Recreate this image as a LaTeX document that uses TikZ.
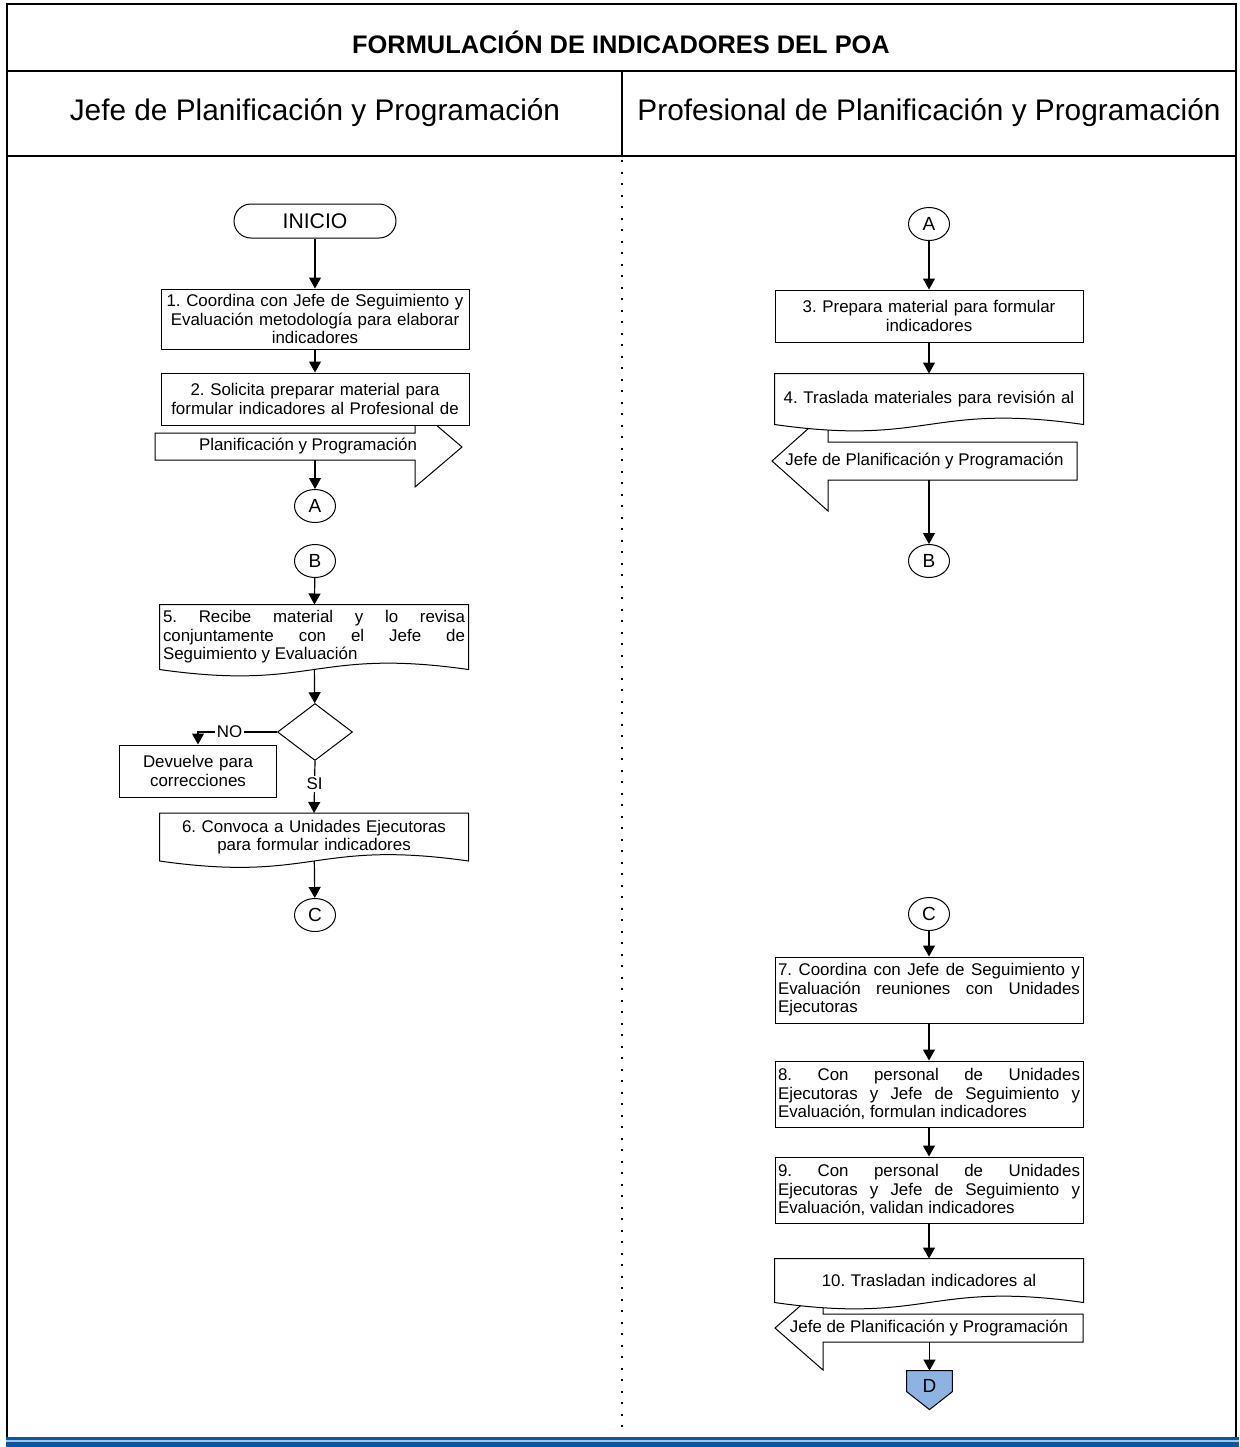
\documentclass[tikz,border=0pt]{standalone}
\usepackage{fontspec}
\setmainfont{Liberation Sans}
\usepackage{xcolor}
\usepackage{tikz}
\usetikzlibrary{calc,arrows.meta,shapes.geometric,backgrounds}
\setlength\parindent{0pt}
\frenchspacing
\definecolor{ink}{HTML}{000000}
\definecolor{bandblue}{HTML}{0A56A5}
\definecolor{bandlight}{HTML}{A3C2E8}
\definecolor{connfill}{HTML}{8DB3E2}
\tikzset{
  border/.style={draw=ink, line width=1.4pt},
  divline/.style={draw=ink, line width=1pt},
  dotline/.style={draw=ink, line width=1pt, dash pattern=on 1pt off 4.75pt},
  box/.style={rectangle, draw=ink, fill=white, line width=0.5pt, text width=151pt, inner xsep=1.5pt, inner ysep=1.5pt, align=center, font=\fontsize{8.45}{9.2}\selectfont},
  boxj/.style={box, align=justify},
  doc/.style={box, draw=none, fill=none},
  term/.style={rectangle, draw=ink, fill=white, line width=0.5pt, rounded corners=8.5pt, minimum width=81pt, minimum height=17pt, font=\fontsize{10.6}{12}\selectfont},
  conn/.style={ellipse, draw=ink, fill=white, line width=0.5pt, minimum width=20.5pt, minimum height=16.5pt, inner sep=0pt, font=\fontsize{9.5}{11}\selectfont},
  decis/.style={diamond, draw=ink, fill=white, line width=0.5pt, minimum width=37.5pt, minimum height=28.5pt, inner sep=0pt},
  flow/.style={draw=ink, line width=0.6pt, -{Triangle[length=5.5pt,width=6pt]}},
  blk/.style={draw=ink, fill=white, line width=0.5pt, line join=miter},
  lab/.style={font=\fontsize{8.45}{9.2}\selectfont, inner sep=1pt},
  labfill/.style={lab, fill=white},
  blktext/.style={lab, inner sep=0pt},
  headtitle/.style={font=\bfseries\fontsize{12.7}{14}\selectfont},
  lane/.style={font=\fontsize{14.9}{16}\selectfont}
}
\newcommand\docshape[1]{%
  \filldraw[blk] (#1.north west) -- (#1.north east) -- (#1.south east)
    .. controls ($(#1.south)+(0,-22)$) and ($(#1.south)+(0,22)$) .. (#1.south west) -- cycle;}

\begin{document}
\begin{tikzpicture}[x=0.5pt,y=-0.5pt]
  \useasboundingbox (0,0) rectangle (1239,1447);
  \draw[border] (7,1437) -- (7,4) -- (1236,4) -- (1236,1437);
  \draw[divline] (7,71) -- (1236,71) (7,156) -- (1236,156) (622,71) -- (622,156);
  \draw[dotline] (622,160) -- (622,1437);
  \fill[bandblue] (6,1437) rectangle (1239,1447);
  \fill[bandlight] (6,1440.3) rectangle (1239,1441.8);
  \node[headtitle] (title) at (621,42) {FORMULACIÓN DE INDICADORES DEL POA};
  \node[lane] (jefe) at (315,113) {Jefe de Planificación y Programación};
  \node[lane] (prof) at (929,113) {Profesional de Planificación y Programación};

  \node[term] (ini) at (315,221) {INICIO};
  \node[box, minimum height=30pt] (s1) at (315,319) {1. Coordina con Jefe de Seguimiento y\\Evaluación metodología para elaborar\\indicadores};
  \node[box, minimum height=26pt] (s2) at (315,399) {2. Solicita preparar material para\\formular indicadores al Profesional de};
  \node[blktext, minimum height=13.5pt] (p2) at (308,446.5) {Planificación y Programación};
  \node[conn] (Al) at (315,506) {A};
  \node[conn] (Bl) at (315,561) {B};
  \node[doc, align=justify, minimum height=32pt] (s5) at (314,637) {5. Recibe material y lo revisa\linebreak conjuntamente con el Jefe de\linebreak Seguimiento y Evaluación};
  \node[decis] (dec) at (315,732) {};
  \node[box, text width=75.5pt, minimum height=26pt] (dev) at (198,771) {Devuelve para\\correcciones};
  \node[doc, minimum height=23.5pt] (s6) at (314,837) {6. Convoca a Unidades Ejecutoras\\para formular indicadores};
  \node[conn] (Cl) at (315,915) {C};

  \node[conn] (Ar) at (929,224) {A};
  \node[box, minimum height=26pt] (s3) at (929,316) {3. Prepara material para formular\\indicadores};
  \node[doc, minimum height=25pt] (s4) at (929,399) {4. Traslada materiales para revisión al};
  \node[blktext, minimum height=19pt] (p4) at (924.5,461) {Jefe de Planificación y Programación};
  \node[conn] (Br) at (929,561) {B};
  \node[conn] (Cr) at (929,914) {C};
  \node[boxj, minimum height=33pt] (s7) at (929,990) {7. Coordina con Jefe de Seguimiento y\linebreak Evaluación reuniones con Unidades\linebreak Ejecutoras};
  \node[boxj, minimum height=33pt] (s8) at (929,1094) {8. Con personal de Unidades\linebreak Ejecutoras y Jefe de Seguimiento y\linebreak Evaluación, formulan indicadores};
  \node[boxj, minimum height=33pt] (s9) at (929,1190) {9. Con personal de Unidades\linebreak Ejecutoras y Jefe de Seguimiento y\linebreak Evaluación, validan indicadores};
  \node[doc, minimum height=21.5pt] (s10) at (929,1280.5) {10. Trasladan indicadores al};
  \node[blktext, minimum height=14pt] (p10) at (929,1328) {Jefe de Planificación y Programación};
  \node[lab, inner sep=0pt, minimum width=22.5pt, minimum height=15pt] (D) at (929.5,1386) {\fontsize{9.5}{11}\selectfont D};

  \begin{pgfonlayer}{background}
    \filldraw[blk] (155,433) -- (415,433) -- (415,407) -- (462,447) -- (415,487) -- (415,460) -- (155,460) -- cycle;
    \filldraw[blk] (1077,442) -- (828,442) -- (828,411) -- (772,461) -- (828,511) -- (828,480) -- (1077,480) -- cycle;
    \filldraw[blk] (1083,1314) -- (823,1314) -- (823,1286) -- (775,1328) -- (823,1370) -- (823,1342) -- (1083,1342) -- cycle;
    \foreach \s in {s4,s5,s6,s10}{\docshape{\s}}
    \filldraw[blk, fill=connfill] (D.north west) -- (D.north east) -- ($(D.north east)+(0,21)$) -- ($(D.north)+(0,39)$) -- ($(D.north west)+(0,21)$) -- cycle;
  \end{pgfonlayer}

  \draw[flow] (ini) -- (s1);
  \draw[flow] (s1) -- (s2);
  \draw[flow] (Al |- p2.south) -- (Al);
  \draw[flow] (Bl) -- (s5);
  \draw[flow] (s5) -- (dec);
  \draw[flow] (dec.west) -| node[labfill, pos=0.3] {NO} (dev.north);
  \draw[flow] (dec.south) -- node[labfill, pos=0.44] {SI} (s6.north);
  \draw[flow] (s6) -- (Cl);
  \draw[flow] (Ar) -- (s3);
  \draw[flow] (s3) -- (s4);
  \draw[flow] (Br |- p4.south) -- (Br);
  \draw[flow] (Cr) -- (s7);
  \draw[flow] (s7) -- (s8);
  \draw[flow] (s8) -- (s9);
  \draw[flow] (s9) -- (s10);
  \draw[flow] (D |- p10.south) -- (D.north);
\end{tikzpicture}
\end{document}
